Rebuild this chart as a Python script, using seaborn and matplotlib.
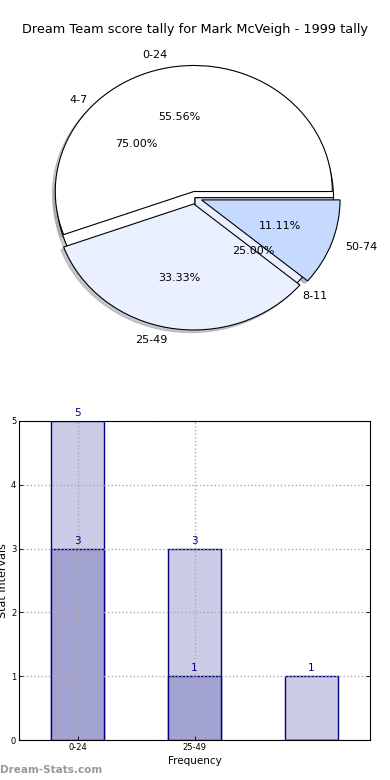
import matplotlib
matplotlib.use("Agg")
import matplotlib.pyplot as plt
import seaborn as sns
import pandas as pd

# ---- data ----
title = "Dream Team score tally for Mark McVeigh - 1999 tally"
pie_outer_labels = ["0-24", "25-49", "50-74"]
pie_outer_values = [5, 3, 1]
pie_inner_labels = ["4-7", "8-11"]
pie_inner_values = [3, 1]
pie_colors = ["#ffffff", "#eaf0ff", "#c6d9ff"]

bar_categories = ["0-24", "25-49", "50-74"]
bar_light_values = [5, 3, 1]
bar_dark_values = [3, 1, 0]
bar_tick_labels = ["0-24", "25-49"]
y_ticks = [0, 1, 2, 3, 4, 5]

sns.set_style("white")
plt.rcParams['font.family'] = ['DejaVu Sans']
plt.rcParams['text.color'] = 'black'
plt.rcParams['axes.labelcolor'] = 'black'
plt.rcParams['xtick.color'] = 'black'
plt.rcParams['ytick.color'] = 'black'

fig = plt.figure(figsize=(3.9, 7.8), dpi=100)
fig.text(0.5, 1 - 30 / 780, title, ha="center", va="center", fontsize=9.3)

# ---- pie ----
axp = fig.add_axes([0.056, 0.5445, 0.888, 0.404])
wp = {"edgecolor": "black", "linewidth": 0.8}
sh = {"ox": -0.015, "oy": -0.015, "shade": 0.4}
axp.pie(pie_inner_values, labels=pie_inner_labels, colors=pie_colors[:2],
        autopct="%.2f%%", shadow=sh, wedgeprops=wp,
        textprops={"fontsize": 8})
axp.pie(pie_outer_values, labels=pie_outer_labels, colors=pie_colors,
        autopct="%.2f%%", shadow=sh, explode=[0.05, 0.05, 0.05],
        wedgeprops=wp, textprops={"fontsize": 8})
axp.set_aspect("auto")
axp.set_xlim(-1.25, 1.25)
axp.set_ylim(-1.25, 1.25)
axp.axis("off")

# ---- bars ----
axb = fig.add_axes([19 / 390, 40 / 780, 351 / 390, 319 / 780])
df = pd.DataFrame({"cat": bar_categories, "light": bar_light_values,
                   "dark": bar_dark_values})
sns.barplot(data=df, x="cat", y="light", order=bar_categories, ax=axb,
            color="#cccce6", saturation=1, edgecolor="navy", linewidth=1,
            width=0.45)
sns.barplot(data=df, x="cat", y="dark", order=bar_categories, ax=axb,
            color="#a3a3d2", saturation=1, edgecolor="navy", linewidth=1,
            width=0.45)
for i, (lv, dv) in enumerate(zip(bar_light_values, bar_dark_values)):
    for v in (lv, dv):
        if v > 0:
            axb.annotate(str(v), (i, v), xytext=(0, 2), textcoords="offset points",
                         ha="center", va="bottom", fontsize=7.5, color="navy")

axb.set_xlim(-0.5, 2.5)
axb.set_ylim(0, 5)
axb.set_yticks(y_ticks)
axb.set_yticklabels([str(t) for t in y_ticks], fontsize=6)
axb.set_xticks(range(len(bar_tick_labels)))
axb.set_xticklabels(bar_tick_labels, fontsize=6)
axb.tick_params(direction="in", length=3, width=0.6, top=False, right=True,
                left=True, bottom=True, pad=2)
axb.grid(True, linestyle=":", color="#aaaaaa", linewidth=1)
axb.set_axisbelow(False)
for s in axb.spines.values():
    s.set_visible(True)
    s.set_color("black")
    s.set_linewidth(0.8)
    s.set_zorder(6)
axb.set_xlabel("Frequency", fontsize=7.5, labelpad=3)
axb.set_ylabel("Stat Intervals", fontsize=8, labelpad=2)

fig.text(0.0, 1 - 770 / 780, "Dream-Stats.com", ha="left", va="center",
         fontsize=7.5, color="#999999", fontweight="bold")

fig.savefig("out.png", dpi=100)
